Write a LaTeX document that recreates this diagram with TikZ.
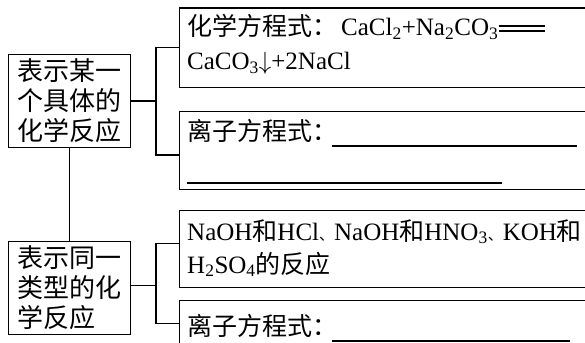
\documentclass[tikz,border=0pt]{standalone}
\usepackage{fontspec}
\setmainfont{Liberation Serif}
\newfontfamily\cjk{Noto Sans CJK SC}
\newcommand{\dunhao}{{\cjk\fontsize{15}{15}\selectfont 、}}
\begin{document}
\begin{tikzpicture}[x=1pt,y=-1pt,
  box/.style={draw, line width=1.1pt, inner sep=0pt, anchor=north west},
  lbox/.style={box, minimum width=122pt, minimum height=93pt, align=left,
    font=\cjk\fontsize{26}{30}\selectfont},
  rbox/.style={box, minimum width=430pt},
  conn/.style={line width=1.4pt},
  uline/.style={line width=2pt},
  rtext/.style={anchor=base west, inner sep=0pt, font=\fontsize{25}{30}\selectfont}]
\clip (0,0) rectangle (585,342);
\fill[white] (0,0) rectangle (585,342);
% left boxes
\node[lbox] (L1) at (8,54) {表示某一\\个具体的\\化学反应};
\node[lbox] (L2) at (8,241) {表示同一\\类型的化\\学反应\phantom{一}};
% right boxes
\node[rbox, minimum height=79.5pt] (R1) at (179,7.5) {};
\node[rbox, minimum height=78pt] (R2) at (179,110.5) {};
\node[rbox, minimum height=77pt] (R3) at (179,210) {};
\node[rbox, minimum height=79pt] (R4) at (179,300) {};
% texts
\node[rtext] (t1) at (187,36) {{\cjk 化学方程式：}\hspace{4pt}CaCl\textsubscript{2}+Na\textsubscript{2}CO\textsubscript{3}};
\draw[line width=1.6pt] ([yshift=9.8pt]t1.base east) -- ++(46,0);
\draw[line width=1.6pt] ([yshift=4.8pt]t1.base east) -- ++(46,0);
\node[rtext] (t2) at (187,70) {CaCO\textsubscript{3}$\downarrow$+2NaCl};
\node[rtext] (t3) at (187,140) {\cjk 离子方程式：};
\draw[uline] (332,146) -- (577,146);
\draw[uline] (187,183) -- (502,183);
\node[rtext] (t4) at (187,240) {NaOH{\cjk 和}HCl\dunhao NaOH{\cjk 和}HNO\textsubscript{3}\dunhao KOH{\cjk 和}};
\node[rtext] (t5) at (187,273) {H\textsubscript{2}SO\textsubscript{4}{\cjk 的反应}};
\node[rtext] (t6) at (187,335) {\cjk 离子方程式：};
\draw[uline] (332,341) -- (570,341);
% connectors
\draw[conn] (L1.south) -- (L2.north);
\draw[conn] (L1.east) -- ++(25,0) coordinate (j1);
\draw[conn] (R1.west) -| (j1);
\draw[conn] ([yshift=-5pt]R2.west) -| (j1);
\draw[conn] ([yshift=2.5pt]L2.east) -- ++(25,0) coordinate (j2);
\draw[conn] ([yshift=5.5pt]R3.west) -| (j2);
\draw[conn] ([yshift=16.5pt]R4.west) -| (j2);
\end{tikzpicture}
\end{document}
